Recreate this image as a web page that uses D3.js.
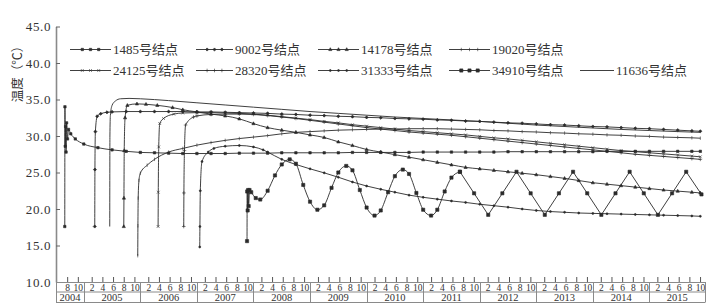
<!DOCTYPE html>
<html>
<head>
<meta charset="utf-8">
<script src="https://cdn.jsdelivr.net/npm/d3@7"></script>
<style>
body { margin: 0; background: #fff; }
text { font-family: "Liberation Serif", "Noto Sans CJK SC", serif; fill: #333; }
</style>
</head>
<body>
<div id="chart"></div>
<script>
// tick labels
var yTicks = [10, 15, 20, 25, 30, 35, 40, 45];
var years = [2004, 2005, 2006, 2007, 2008, 2009, 2010, 2011, 2012, 2013, 2014, 2015];
var months2004 = [8, 10];
var months = [2, 4, 6, 8, 10];

// [year, temperature] for each node
var n1485 = [[2004.664,17.6],[2004.667,34.0],[2004.672,28.6],[2004.679,31.3],[2004.687,27.8],[2004.696,31.8],[2004.712,29.6],[2004.73,30.9],[2004.77,30.3],[2004.85,29.6],[2005.0,28.9],[2005.25,28.4],[2005.5,28.1],[2005.75,27.9],[2006.0,27.75],[2006.25,27.7],[2006.5,27.65],[2006.75,27.6],[2007.0,27.6],[2007.25,27.6],[2007.5,27.6],[2007.75,27.65],[2008.0,27.65],[2008.25,27.65],[2008.5,27.7],[2008.75,27.7],[2009.0,27.7],[2009.25,27.7],[2009.5,27.7],[2009.75,27.75],[2010.0,27.75],[2010.25,27.75],[2010.5,27.75],[2010.75,27.75],[2011.0,27.8],[2011.25,27.8],[2011.5,27.8],[2011.75,27.8],[2012.0,27.8],[2012.25,27.8],[2012.5,27.85],[2012.75,27.85],[2013.0,27.85],[2013.25,27.85],[2013.5,27.85],[2013.75,27.85],[2014.0,27.85],[2014.25,27.9],[2014.5,27.9],[2014.75,27.9],[2015.0,27.9],[2015.25,27.9],[2015.5,27.9],[2015.75,27.9],[2015.9,27.9]];
var n9002 = [[2005.194,17.6],[2005.197,25.4],[2005.205,30.6],[2005.237,32.7],[2005.3,33.05],[2005.41,33.25],[2005.5,33.3],[2005.75,33.35],[2006.0,33.35],[2006.25,33.35],[2006.5,33.35],[2006.75,33.35],[2007.0,33.3],[2007.25,33.3],[2007.5,33.25],[2007.75,33.2],[2008.0,33.15],[2008.25,33.1],[2008.5,33.0],[2008.75,32.95],[2009.0,32.85],[2009.25,32.8],[2009.5,32.7],[2009.75,32.65],[2010.0,32.55],[2010.25,32.5],[2010.5,32.4],[2010.75,32.35],[2011.0,32.3],[2011.25,32.2],[2011.5,32.15],[2011.75,32.05],[2012.0,32.0],[2012.25,31.9],[2012.5,31.8],[2012.75,31.75],[2013.0,31.65],[2013.25,31.55],[2013.5,31.5],[2013.75,31.4],[2014.0,31.3],[2014.25,31.25],[2014.5,31.15],[2014.75,31.05],[2015.0,31.0],[2015.25,30.9],[2015.5,30.8],[2015.75,30.7],[2015.9,30.65]];
var n14178 = [[2005.707,17.6],[2005.71,21.5],[2005.715,28.0],[2005.73,32.5],[2005.77,34.2],[2005.94,34.4],[2006.1,34.35],[2006.3,34.2],[2006.57,33.9],[2006.75,33.6],[2007.0,33.3],[2007.25,33.0],[2007.5,32.75],[2007.75,32.35],[2008.0,31.7],[2008.25,31.15],[2008.5,30.8],[2008.75,30.5],[2009.0,30.15],[2009.25,29.8],[2009.5,29.2],[2009.75,28.7],[2010.0,28.15],[2010.25,27.8],[2010.5,27.45],[2010.75,27.1],[2011.0,26.75],[2011.25,26.4],[2011.5,26.05],[2011.75,25.7],[2012.0,25.5],[2012.25,25.3],[2012.5,25.1],[2012.75,24.9],[2013.0,24.7],[2013.25,24.45],[2013.5,24.2],[2013.75,23.9],[2014.0,23.6],[2014.25,23.4],[2014.5,23.2],[2014.75,23.0],[2015.0,22.8],[2015.25,22.6],[2015.5,22.45],[2015.75,22.3],[2015.9,22.2]];
var n19020 = [[2005.954,13.6],[2005.957,17.7],[2005.962,21.5],[2005.975,23.9],[2006.0,24.9],[2006.12,26.0],[2006.25,26.8],[2006.5,27.8],[2006.75,28.3],[2007.0,28.75],[2007.25,29.1],[2007.5,29.4],[2007.75,29.65],[2008.0,29.85],[2008.25,30.05],[2008.5,30.3],[2008.75,30.5],[2009.0,30.6],[2009.25,30.7],[2009.5,30.8],[2009.75,30.85],[2010.0,30.9],[2010.25,30.95],[2010.5,30.95],[2010.75,31.0],[2011.0,31.0],[2011.25,31.0],[2011.5,30.95],[2011.75,30.9],[2012.0,30.85],[2012.25,30.75],[2012.5,30.7],[2012.75,30.6],[2013.0,30.55],[2013.25,30.45],[2013.5,30.4],[2013.75,30.3],[2014.0,30.25],[2014.25,30.15],[2014.5,30.1],[2014.75,30.0],[2015.0,29.95],[2015.25,29.85],[2015.5,29.8],[2015.75,29.75],[2015.9,29.7]];
var n24125 = [[2006.314,17.6],[2006.317,22.3],[2006.325,28.5],[2006.343,31.7],[2006.41,32.4],[2006.59,33.0],[2006.75,33.15],[2007.0,33.2],[2007.25,33.2],[2007.5,33.15],[2007.75,33.1],[2008.0,33.0],[2008.25,32.85],[2008.5,32.65],[2008.75,32.45],[2009.0,32.25],[2009.25,32.0],[2009.5,31.8],[2009.75,31.55],[2010.0,31.35],[2010.25,31.15],[2010.5,30.95],[2010.75,30.75],[2011.0,30.6],[2011.25,30.45],[2011.5,30.3],[2011.75,30.15],[2012.0,29.95],[2012.25,29.75],[2012.5,29.6],[2012.75,29.4],[2013.0,29.2],[2013.25,29.0],[2013.5,28.8],[2013.75,28.6],[2014.0,28.4],[2014.25,28.2],[2014.5,28.0],[2014.75,27.85],[2015.0,27.7],[2015.25,27.55],[2015.5,27.4],[2015.75,27.25],[2015.9,27.15]];
var n28320 = [[2006.767,17.6],[2006.77,22.2],[2006.78,28.0],[2006.8,31.5],[2006.94,32.6],[2007.0,32.75],[2007.25,32.95],[2007.5,33.0],[2007.75,33.0],[2008.0,32.95],[2008.25,32.8],[2008.5,32.6],[2008.75,32.4],[2009.0,32.15],[2009.25,31.9],[2009.5,31.65],[2009.75,31.4],[2010.0,31.15],[2010.25,30.95],[2010.5,30.75],[2010.75,30.55],[2011.0,30.4],[2011.25,30.25],[2011.5,30.1],[2011.75,29.9],[2012.0,29.7],[2012.25,29.5],[2012.5,29.3],[2012.75,29.1],[2013.0,28.9],[2013.25,28.7],[2013.5,28.5],[2013.75,28.3],[2014.0,28.1],[2014.25,27.9],[2014.5,27.7],[2014.75,27.5],[2015.0,27.35],[2015.25,27.2],[2015.5,27.05],[2015.75,26.9],[2015.9,26.8]];
var n31333 = [[2007.05,14.8],[2007.053,17.6],[2007.06,22.5],[2007.09,26.5],[2007.2,27.8],[2007.3,28.3],[2007.5,28.6],[2007.75,28.7],[2008.0,28.5],[2008.17,28.1],[2008.25,27.8],[2008.5,26.8],[2008.75,26.1],[2009.0,25.5],[2009.25,24.95],[2009.5,24.35],[2009.75,23.7],[2010.0,23.15],[2010.25,22.7],[2010.5,22.3],[2010.75,21.9],[2011.0,21.6],[2011.25,21.35],[2011.5,21.1],[2011.75,20.9],[2012.0,20.65],[2012.25,20.45],[2012.5,20.25],[2012.75,20.0],[2013.0,19.8],[2013.25,19.65],[2013.5,19.55],[2013.75,19.45],[2014.0,19.4],[2014.25,19.35],[2014.5,19.3],[2014.75,19.25],[2015.0,19.2],[2015.25,19.15],[2015.5,19.1],[2015.75,19.05],[2015.9,19.0]];
var n34910 = [[2007.886,15.6],[2007.889,22.4],[2007.897,19.8],[2007.905,22.6],[2007.915,20.4],[2007.93,22.6],[2007.96,22.3],[2008.04,21.5],[2008.12,21.3],[2008.25,22.5],[2008.38,24.6],[2008.5,26.1],[2008.64,26.8],[2008.75,26.2],[2008.88,23.3],[2009.0,21.0],[2009.13,19.9],[2009.25,20.5],[2009.38,22.9],[2009.5,25.0],[2009.64,25.9],[2009.75,25.3],[2009.88,22.6],[2010.0,20.2],[2010.14,19.1],[2010.25,19.8],[2010.38,22.3],[2010.5,24.5],[2010.64,25.4],[2010.75,24.8],[2010.88,22.2],[2011.0,19.9],[2011.14,19.1],[2011.25,19.9],[2011.38,22.4],[2011.5,24.3],[2011.65,25.1]];
var n34910Late = [[2011.65,25.1],[2011.9,22.15],[2012.15,19.2],[2012.4,22.15],[2012.65,25.1],[2012.9,22.15],[2013.15,19.2],[2013.4,22.15],[2013.65,25.1],[2013.9,22.15],[2014.15,19.2],[2014.4,22.15],[2014.65,25.1],[2014.9,22.15],[2015.15,19.2],[2015.4,22.15],[2015.65,25.1],[2015.92,22.0]];
var n11636 = [[2005.459,17.6],[2005.462,30.0],[2005.47,32.8],[2005.5,34.2],[2005.56,34.8],[2005.65,35.1],[2005.8,35.15],[2006.0,35.1],[2006.5,34.85],[2007.0,34.55],[2007.5,34.25],[2008.0,33.95],[2008.5,33.65],[2009.0,33.35],[2009.5,33.1],[2010.0,32.85],[2010.5,32.6],[2011.0,32.4],[2011.5,32.2],[2012.0,32.0],[2012.5,31.75],[2013.0,31.5],[2013.5,31.3],[2014.0,31.1],[2014.5,30.9],[2015.0,30.75],[2015.5,30.6],[2015.9,30.5]];

var names = ['1485号结点', '9002号结点', '14178号结点', '19020号结点', '24125号结点', '28320号结点', '31333号结点', '34910号结点', '11636号结点'];
var markers = ['square', 'diamond', 'triangle', 'tick', 'times', 'plus', 'dot', 'bigsquare', 'none'];

var series = [
    {name: names[0], data: [n1485], marker: markers[0]},
    {name: names[1], data: [n9002], marker: markers[1]},
    {name: names[2], data: [n14178], marker: markers[2]},
    {name: names[3], data: [n19020], marker: markers[3]},
    {name: names[4], data: [n24125], marker: markers[4]},
    {name: names[5], data: [n28320], marker: markers[5]},
    {name: names[6], data: [n31333], marker: markers[6]},
    {name: names[7], data: [n34910, n34910Late], marker: markers[7], linearAfter: true},
    {name: names[8], data: [n11636], marker: markers[8]}
];

var width = 711, height = 303;
var lineColor = '#2a2a2a';

var svg = d3.select('#chart').append('svg')
    .attr('width', width)
    .attr('height', height);

svg.append('rect').attr('width', width).attr('height', height).attr('fill', '#fff');

var x = d3.scaleLinear().domain([2004.5, 2016]).range([55.5, 706]);
var y = d3.scaleLinear().domain([10, 45]).range([282, 26.5]);
var xEnd = 705;

// y axis, ticks pointing into the plot
var yAxis = svg.append('g')
    .attr('transform', 'translate(56,0)')
    .call(d3.axisLeft(y).tickValues(yTicks).tickSizeInner(-4).tickSizeOuter(0).tickPadding(5).tickFormat(d3.format('.1f')));
yAxis.select('.domain').attr('stroke', '#8a8a8a').attr('stroke-width', 1.6);
yAxis.selectAll('.tick line').attr('stroke', '#666');
yAxis.selectAll('.tick text')
    .style('font-size', '13px')
    .style('letter-spacing', '0.6px')
    .attr('fill', '#333');

svg.append('text')
    .attr('transform', 'translate(22,71) rotate(-90)')
    .attr('text-anchor', 'middle')
    .style('font-size', '12.5px')
    .style('font-family', '"Noto Sans CJK SC", sans-serif')
    .text('温度（℃）');

// month ticks along the bottom
var monthPos = d3.scaleLinear().domain([2, 10]).range([0.14, 0.895]);
var monthTicks = [];
years.forEach(function (yr) {
    (yr === 2004 ? months2004 : months).forEach(function (m) {
        monthTicks.push({t: yr + monthPos(m), m: m});
    });
});

var xAxis = svg.append('g')
    .attr('transform', 'translate(0,282)')
    .call(d3.axisBottom(x).tickValues(monthTicks.map(function (d) { return d.t; }))
        .tickSizeInner(-5).tickSizeOuter(0).tickPadding(0)
        .tickFormat(function (d, i) { return monthTicks[i].m; }));
xAxis.select('.domain').remove();
xAxis.selectAll('.tick line').attr('stroke', '#555');
xAxis.selectAll('.tick text')
    .attr('y', 8.5)
    .attr('dy', 0)
    .style('font-size', '9.5px')
    .attr('fill', '#333');

var box = svg.append('g').attr('stroke', '#8a8a8a').attr('stroke-width', 1);
[282, 291.5, 302].forEach(function (yy) {
    box.append('line').attr('x1', 56).attr('x2', xEnd).attr('y1', yy + 0.5).attr('y2', yy + 0.5);
});
var bounds = [56].concat(years.slice(1).map(function (yr) { return x(yr); })).concat([xEnd]);
box.selectAll('.sep').data(bounds).enter().append('line')
    .attr('x1', function (d) { return Math.round(d) + 0.5; })
    .attr('x2', function (d) { return Math.round(d) + 0.5; })
    .attr('y1', 282).attr('y2', 302.5);

svg.append('g').selectAll('text')
    .data(years)
    .enter()
    .append('text')
    .attr('x', function (d) { return (Math.max(x(d), 56) + Math.min(x(d + 1), xEnd)) / 2; })
    .attr('y', 301)
    .attr('text-anchor', 'middle')
    .style('font-size', '10.5px')
    .text(String);

// marker shapes
function markerPath(type) {
    switch (type) {
        case 'square': return 'M-1.2,-1.2h2.4v2.4h-2.4z';
        case 'bigsquare': return 'M-1.6,-1.6h3.2v3.2h-3.2z';
        case 'diamond': return 'M0,-1.6L1.6,0L0,1.6L-1.6,0Z';
        case 'triangle': return 'M0,-1.8L1.6,1.1H-1.6Z';
        case 'tick': return 'M0,-1.7V1.7';
        case 'times': return 'M-1.4,-1.4L1.4,1.4M-1.4,1.4L1.4,-1.4';
        case 'plus': return 'M-1.8,0H1.8M0,-1.8V1.8';
        case 'dot': return 'M-1,0a1,1 0 1,0 2,0a1,1 0 1,0 -2,0';
    }
    return null;
}

var smooth = d3.line()
    .x(function (d) { return x(d[0]); })
    .y(function (d) { return y(d[1]); })
    .curve(d3.curveMonotoneX);
var straight = d3.line()
    .x(function (d) { return x(d[0]); })
    .y(function (d) { return y(d[1]); });

var plot = svg.append('g');
series.forEach(function (s) {
    s.data.forEach(function (part, k) {
        plot.append('path')
            .attr('d', (s.linearAfter && k > 0) ? straight(part) : smooth(part))
            .attr('fill', 'none')
            .attr('stroke', lineColor)
            .attr('stroke-width', 0.9);
    });
});
series.forEach(function (s) {
    var p = markerPath(s.marker);
    if (!p) return;
    var pts = [].concat.apply([], s.data);
    plot.append('g').selectAll('path')
        .data(pts)
        .enter()
        .append('path')
        .attr('d', p)
        .attr('transform', function (d) { return 'translate(' + x(d[0]) + ',' + y(d[1]) + ')'; })
        .attr('fill', lineColor)
        .attr('stroke', lineColor)
        .attr('stroke-width', 0.6);
});

// legend
var legendCols = [[70, 113], [196, 235], [318, 361], [449, 492], [580, 616]];
var legendRows = [49, 70];
series.forEach(function (s, i) {
    var row = i < 4 ? 0 : 1;
    var col = i < 4 ? i : i - 4;
    var x0 = legendCols[col][0], x1 = legendCols[col][1] - 2, ly = legendRows[row];
    var g = svg.append('g');
    g.append('line')
        .attr('x1', x0).attr('x2', x1).attr('y1', ly + 0.5).attr('y2', ly + 0.5)
        .attr('stroke', lineColor).attr('stroke-width', 0.9);
    var p = markerPath(s.marker);
    if (p) {
        [0.3, 0.5, 0.7].forEach(function (f) {
            g.append('path')
                .attr('d', p)
                .attr('transform', 'translate(' + (x0 + (x1 - x0) * f) + ',' + (ly + 0.5) + ')')
                .attr('fill', lineColor)
                .attr('stroke', lineColor)
                .attr('stroke-width', 0.6);
        });
    }
    g.append('text')
        .attr('x', legendCols[col][1])
        .attr('y', ly + 4.5)
        .style('font-size', '13px')
        .text(s.name);
});
</script>
</body>
</html>
